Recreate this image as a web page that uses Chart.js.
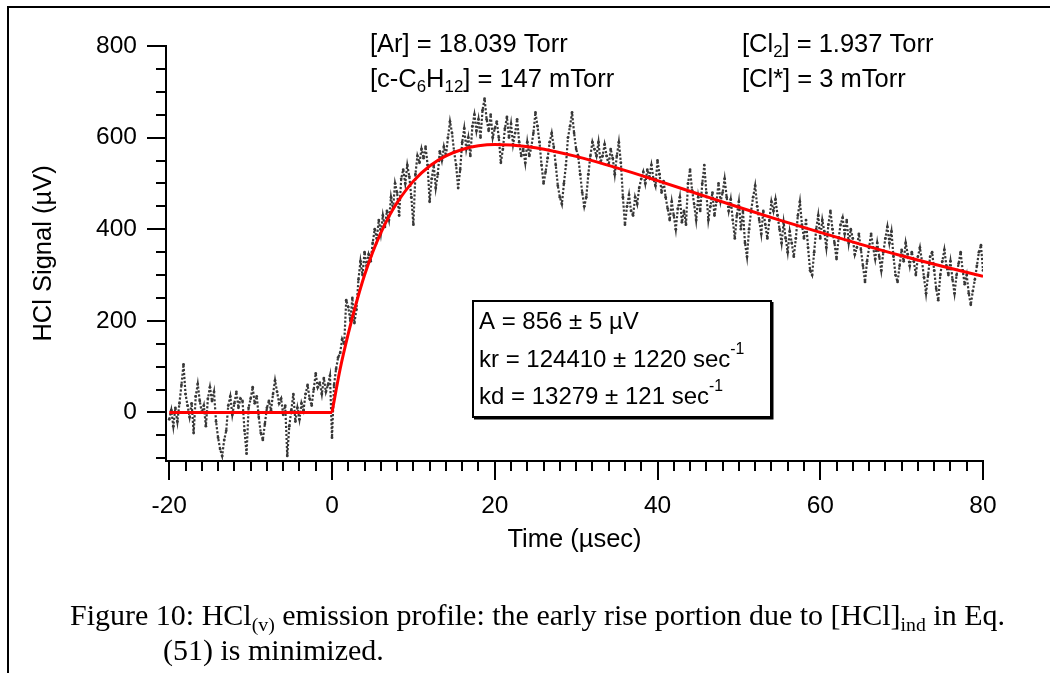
<!DOCTYPE html>
<html>
<head>
<meta charset="utf-8">
<script src="https://cdn.jsdelivr.net/npm/chart.js@4.4.0/dist/chart.umd.min.js"></script>
<style>
html, body { margin: 0; padding: 0; background: #fff; }
#wrap { width: 1050px; height: 673px; }
</style>
</head>
<body>
<div id="wrap"><canvas id="chart" width="1050" height="673"></canvas></div>
<script>
// HCl(v) emission signal, sampled every 0.25 usec from -20 usec
var signalStart = -20;
var signalStep = 0.25;
var signalValues = [
    -15, 5, -30, 10,   -20, 20, 60, 105,   40, 15, -10, 20,   -45, 35, 62, 25,
    0, 15, -30, 30,    55, 25, 45, -20,    -55, -80, -95, -60, -40, 15, 35, -5,
    20, 45, 10, 30,    25, -40, -90, 10,   30, 55, 20, 35,    -10, -45, -60, -25,
    10, 25, 5, 40,     70, 45, 20, 30,     -5, 15, -95, -30,  5, 40, -20, 10,
    -15, 20, 5, 40,    60, 30, 15, 50,     85, 55, 65, 40,    75, 45, 60, 80,
    -55, 60, 95, 120,  130, 160, 150, 245, 230, 200, 250, 195, 225, 290, 330, 300,
    350, 320, 345, 330, 370, 400, 380, 420, 390, 430, 405, 440, 420, 470, 445, 500,
    480, 430, 510, 530, 500, 540, 515, 470, 410, 520, 560, 545, 575, 555, 580, 540,
    460, 510, 540, 490, 520, 570, 550, 580, 560, 600, 635, 610, 570, 540, 490, 530,
    590, 620, 575, 600, 560, 625, 650, 615, 640, 600, 660, 685, 640, 615, 650, 600,
    620, 635, 600, 545, 575, 620, 645, 600, 630, 585, 610, 640, 590, 560, 575, 545,
    590, 560, 580, 610, 655, 625, 590, 540, 500, 525, 555, 590, 610, 580, 540, 495,
    470, 455, 500, 540, 600, 625, 655, 610, 575, 560, 520, 480, 450, 470, 520, 560,
    590, 575, 560, 590, 545, 560, 585, 560, 540, 575, 555, 520, 560, 590, 545, 470,
    410, 450, 475, 440, 430, 470, 455, 490, 510, 525, 500, 530, 515, 540, 510, 495,
    550, 520, 480, 505, 470, 445, 420, 460, 430, 400, 445, 470, 415, 440, 410, 500,
    530, 485, 455, 420, 470, 440, 500, 540, 480, 420, 450, 480, 430, 460, 500, 460,
    480, 510, 470, 440, 465, 420, 380, 430, 460, 400, 440, 370, 340, 400, 440, 470,
    495, 450, 420, 390, 440, 410, 380, 420, 460, 440, 465, 430, 400, 370, 415, 380,
    350, 395, 370, 340, 380, 430, 460, 410, 380, 420, 360, 310, 300, 350, 400, 430,
    380, 420, 395, 360, 410, 440, 400, 370, 335, 380, 410, 425, 390, 420, 370, 400,
    380, 345, 360, 390, 355, 320, 285, 330, 360, 390, 360, 335, 370, 340, 310, 350,
    380, 405, 370, 395, 340, 300, 285, 320, 355, 330, 370, 345, 320, 350, 330, 300,
    340, 360, 330, 295, 260, 300, 340, 350, 310, 270, 245, 300, 330, 355, 320, 300,
    330, 290, 260, 300, 325, 350, 310, 280, 300, 260, 235, 265, 290, 320, 350, 365,
    310
];

// fitted curve (red)
var baseTimes = [-20, 0];
var baseValues = [0, 0];
var fitTimes = [0, 1, 2, 3, 4, 5, 6, 7, 8, 10, 12, 14, 16, 18, 20, 22, 25, 30, 35, 40, 45, 50, 55, 60, 65, 70, 75, 80];
var fitValues = [0, 95, 172, 240, 300, 350, 392, 428, 458, 505, 538, 560, 574, 582, 585, 584, 578, 559, 534, 506, 477, 448, 420, 393, 367, 342, 319, 297];

var xMajorTicks = [-20, 0, 20, 40, 60, 80];
var yMajorTicks = [0, 200, 400, 600, 800];
var xMinorStep = 2;
var yMinorStep = 50;

var sansFont = '"Liberation Sans", Arial, Helvetica, sans-serif';
var serifFont = '"Liberation Serif", "Times New Roman", Times, serif';

function toPoints(xs, ys) {
    var pts = [];
    for (var i = 0; i < xs.length; i++) pts.push({ x: xs[i], y: ys[i] });
    return pts;
}

var signalPoints = [];
for (var i = 0; i < signalValues.length; i++) {
    signalPoints.push({ x: signalStart + i * signalStep, y: signalValues[i] });
}

function drawRich(ctx, x, y, parts, size, family) {
    parts.forEach(function(p) {
        var small = p.sub || p.sup;
        var fs = small ? size * 0.66 : size;
        ctx.font = fs + "px " + family;
        var dy = p.sub ? size * 0.3 : (p.sup ? -size * 0.42 : 0);
        ctx.fillText(p.t, x, y + dy);
        x += ctx.measureText(p.t).width;
    });
    return x;
}

function drawWidth(ctx, parts, size, family) {
    var w = 0;
    parts.forEach(function(p) {
        var fs = (p.sub || p.sup) ? size * 0.66 : size;
        ctx.font = fs + "px " + family;
        w += ctx.measureText(p.t).width;
    });
    return w;
}

var decorPlugin = {
    id: "decor",
    afterDraw: function(chart) {
        var ctx = chart.ctx;
        var xs = chart.scales.x;
        var ys = chart.scales.y;
        var area = chart.chartArea;
        var v, p;

        ctx.save();
        ctx.strokeStyle = "#000";
        ctx.fillStyle = "#000";

        // page frame
        ctx.lineWidth = 2;
        ctx.beginPath();
        ctx.moveTo(8, 673);
        ctx.lineTo(8, 7);
        ctx.lineTo(1050, 7);
        ctx.stroke();

        // x ticks, major and minor
        ctx.beginPath();
        for (v = xMajorTicks[0]; v <= xMajorTicks[xMajorTicks.length - 1] + 0.001; v += xMinorStep) {
            p = Math.round(xs.getPixelForValue(v));
            var lx = (xMajorTicks.indexOf(v) >= 0) ? 19 : 10;
            ctx.moveTo(p, area.bottom);
            ctx.lineTo(p, area.bottom + lx);
        }
        // y ticks
        for (v = -100; v <= 800; v += yMinorStep) {
            p = Math.round(ys.getPixelForValue(v));
            var ly = (yMajorTicks.indexOf(v) >= 0) ? 19 : 10;
            ctx.moveTo(area.left, p);
            ctx.lineTo(area.left - ly, p);
        }
        ctx.stroke();

        // experimental conditions
        ctx.textBaseline = "middle";
        ctx.textAlign = "left";
        drawRich(ctx, 370, 45, [{ t: "[Ar] = 18.039 Torr" }], 25.5, sansFont);
        drawRich(ctx, 370, 80, [{ t: "[c-C" }, { t: "6", sub: true }, { t: "H" }, { t: "12", sub: true }, { t: "] = 147 mTorr" }], 25.5, sansFont);
        drawRich(ctx, 742, 45, [{ t: "[Cl" }, { t: "2", sub: true }, { t: "] = 1.937 Torr" }], 25.5, sansFont);
        drawRich(ctx, 742, 80, [{ t: "[Cl*] = 3 mTorr" }], 25.5, sansFont);

        // fit results box
        ctx.lineWidth = 2;
        ctx.strokeRect(473, 301, 298, 116);
        ctx.beginPath();
        ctx.moveTo(772.5, 302);
        ctx.lineTo(772.5, 418.5);
        ctx.lineTo(474, 418.5);
        ctx.stroke();
        drawRich(ctx, 479, 322, [{ t: "A = 856 \u00B1 5 \u00B5V" }], 24, sansFont);
        drawRich(ctx, 479, 360, [{ t: "kr = 124410 \u00B1 1220 sec" }, { t: "-1", sup: true }], 24, sansFont);
        drawRich(ctx, 479, 397, [{ t: "kd = 13279 \u00B1 121 sec" }, { t: "-1", sup: true }], 24, sansFont);

        // caption
        var line1 = [
            { t: "Figure 10: HCl" }, { t: "(v)", sub: true },
            { t: " emission profile: the early rise portion due to [HCl]" }, { t: "ind", sub: true },
            { t: " in Eq." }
        ];
        var capSize = 30;
        var w = drawWidth(ctx, line1, capSize, serifFont);
        var sx = 935 / w;
        ctx.save();
        ctx.translate(70, 0);
        ctx.scale(sx, 1);
        drawRich(ctx, 0, 617, line1, capSize, serifFont);
        ctx.restore();
        ctx.save();
        ctx.translate(163, 0);
        ctx.scale(sx, 1);
        drawRich(ctx, 0, 652, [{ t: "(51) is minimized." }], capSize, serifFont);
        ctx.restore();

        ctx.restore();
    }
};

var chart = new Chart(document.getElementById("chart").getContext("2d"), {
    type: "scatter",
    data: {
        datasets: [{
            label: "Fit base",
            data: toPoints(baseTimes, baseValues),
            showLine: true,
            borderColor: "#ff0000",
            borderWidth: 3,
            pointRadius: 0,
            order: 1
        }, {
            label: "Fit",
            data: toPoints(fitTimes, fitValues),
            showLine: true,
            borderColor: "#ff0000",
            borderWidth: 3,
            pointRadius: 0,
            cubicInterpolationMode: "monotone",
            order: 1
        }, {
            label: "HCl signal",
            data: signalPoints,
            showLine: true,
            borderColor: "#383838",
            borderWidth: 2.2,
            borderDash: [2.2, 1.8],
            pointRadius: 1.4,
            pointBackgroundColor: "#383838",
            pointBorderWidth: 0,
            order: 2
        }]
    },
    options: {
        responsive: false,
        animation: false,
        devicePixelRatio: 1,
        layout: { padding: { left: 16, right: 67, top: 46, bottom: 62 } },
        plugins: {
            legend: { display: false },
            tooltip: { enabled: false }
        },
        scales: {
            x: {
                type: "linear",
                min: -20.4,
                max: 80,
                afterBuildTicks: function(scale) {
                    scale.ticks = xMajorTicks.map(function(v) { return { value: v }; });
                },
                afterFit: function(scale) { scale.height = 150; },
                grid: { display: false, drawTicks: false },
                border: { display: true, color: "#000", width: 2 },
                ticks: {
                    padding: 31,
                    maxRotation: 0,
                    color: "#000",
                    font: { family: sansFont, size: 24.5 }
                },
                title: {
                    display: true,
                    text: "Time (\u00B5sec)",
                    color: "#000",
                    font: { family: sansFont, size: 25.5 },
                    padding: { top: 0, bottom: 56 }
                }
            },
            y: {
                min: -106,
                max: 800,
                afterBuildTicks: function(scale) {
                    scale.ticks = yMajorTicks.map(function(v) { return { value: v }; });
                },
                afterFit: function(scale) { scale.width = 150; },
                grid: { display: false, drawTicks: false },
                border: { display: true, color: "#000", width: 2 },
                ticks: {
                    padding: 29,
                    color: "#000",
                    font: { family: sansFont, size: 24.5 }
                },
                title: {
                    display: true,
                    text: "HCl Signal (\u00B5V)",
                    color: "#000",
                    font: { family: sansFont, size: 25.5 },
                    padding: { top: 13, bottom: 0 }
                }
            }
        }
    },
    plugins: [decorPlugin]
});
</script>
</body>
</html>
